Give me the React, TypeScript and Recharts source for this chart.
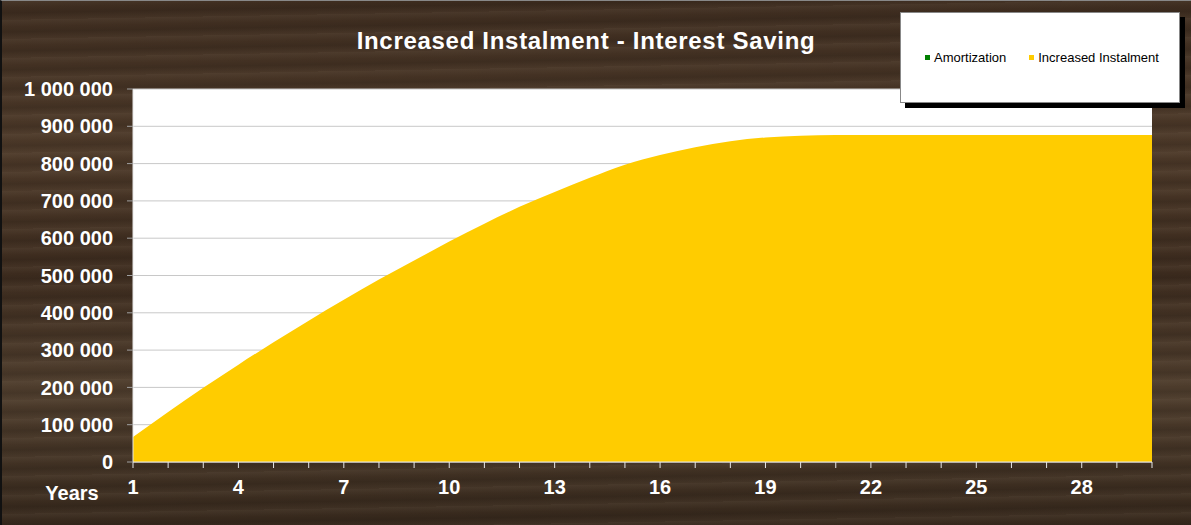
import { AreaChart, Area, XAxis, YAxis, CartesianGrid } from "recharts"

const years = [
    1, 2, 3, 4, 5, 6, 7, 8, 9, 10, 11, 12, 13, 14, 15, 16, 17, 18, 19, 20, 21,
    22, 23, 24, 25, 26, 27, 28, 29, 30
]

// interest saving from the increased instalment (cumulative)
const increasedInstalment = [
    67000, 134000, 199000, 261000, 321000, 379000, 435000, 489000, 540000,
    591000, 639000, 684000, 724000, 762000, 797000, 823000, 844000, 860000,
    870000, 875000, 877000, 877000, 877000, 877000, 877000, 877000, 877000,
    877000, 877000, 877000
]

const yTicks = [
    0, 100000, 200000, 300000, 400000, 500000, 600000, 700000, 800000, 900000,
    1000000
]

const legendItems = [
    { name: "Amortization", color: "#008000" },
    { name: "Increased Instalment", color: "#ffcc00" }
]

const chartTitle = "Increased Instalment - Interest Saving"
const xTitle = "Years"

const data = years.map((y, i) => ({ year: y, saving: increasedInstalment[i] }))

const FONT = "'Liberation Sans', Arial, sans-serif"

const fmt = (v: number) => String(v).replace(/\B(?=(\d{3})+(?!\d))/g, " ")

function YearTick(props: any) {
    const { x, y, payload, index } = props
    if (index % 3 !== 0) return null
    return (
        <text
            x={x}
            y={y + 26}
            textAnchor="middle"
            fill="#fff"
            fontSize={20}
            fontWeight="bold"
            fontFamily={FONT}
        >
            {payload.value}
        </text>
    )
}

export default function App() {
    return (
        <div
            style={{
                position: "absolute",
                left: 0,
                top: 0,
                width: 1191,
                height: 525,
                boxSizing: "border-box",
                borderLeft: "2px solid #111",
                borderTop: "1px solid #888",
                background:
                    "repeating-linear-gradient(179deg, rgba(255,235,210,0.06) 0px, rgba(255,235,210,0) 7px, rgba(0,0,0,0.09) 12px, rgba(255,235,210,0.03) 19px), linear-gradient(180deg, #3d2c1f 0%, #4b3828 28%, #3c2b1e 52%, #4d3c2c 74%, #36281c 100%)",
                fontFamily: FONT
            }}
        >
            <AreaChart
                width={1191}
                height={525}
                data={data}
                margin={{ top: 89, right: 41, left: -2, bottom: 0 }}
                style={{ position: "absolute", left: 0, top: -1 }}
            >
                <CartesianGrid
                    vertical={false}
                    stroke="#c8c8c8"
                    fill="#ffffff"
                    fillOpacity={1}
                />
                <XAxis
                    dataKey="year"
                    interval={0}
                    height={63}
                    stroke="#e6e6e6"
                    tickSize={6}
                    tickMargin={0}
                    tickLine={{ stroke: "#e6e6e6" }}
                    tick={<YearTick />}
                />
                <YAxis
                    width={133}
                    domain={[0, 1000000]}
                    ticks={yTicks}
                    interval={0}
                    stroke="#e6e6e6"
                    tickLine={{ stroke: "#a0a0a0" }}
                    tickSize={6}
                    tickMargin={14}
                    tickFormatter={fmt}
                    tick={{
                        fill: "#ffffff",
                        fontSize: 20,
                        fontWeight: "bold",
                        fontFamily: FONT
                    }}
                />
                <Area
                    type="monotone"
                    dataKey="saving"
                    name="Increased Instalment"
                    stroke="none"
                    fill="#ffcc00"
                    fillOpacity={1}
                    isAnimationActive={false}
                />
                <text
                    x={584}
                    y={49}
                    textAnchor="middle"
                    fill="#fff"
                    fontSize={24}
                    fontWeight="bold"
                    fontFamily={FONT}
                    style={{ letterSpacing: "0.7px" }}
                >
                    {chartTitle}
                </text>
                <text
                    x={70}
                    y={500}
                    textAnchor="middle"
                    fill="#fff"
                    fontSize={20}
                    fontWeight="bold"
                    fontFamily={FONT}
                >
                    {xTitle}
                </text>
            </AreaChart>
            <div
                style={{
                    position: "absolute",
                    left: 898,
                    top: 11,
                    width: 280,
                    height: 91,
                    background: "#fff",
                    border: "1px solid #888",
                    boxShadow: "5px 5px 0 #000",
                    display: "flex",
                    alignItems: "center",
                    paddingLeft: 24,
                    boxSizing: "border-box",
                    fontSize: 13,
                    color: "#000",
                    gap: 23
                }}
            >
                {legendItems.map((it) => (
                    <div
                        key={it.name}
                        style={{ display: "flex", alignItems: "center", gap: 4 }}
                    >
                        <span
                            style={{
                                display: "inline-block",
                                width: 5,
                                height: 5,
                                background: it.color
                            }}
                        />
                        <span>{it.name}</span>
                    </div>
                ))}
            </div>
        </div>
    )
}
